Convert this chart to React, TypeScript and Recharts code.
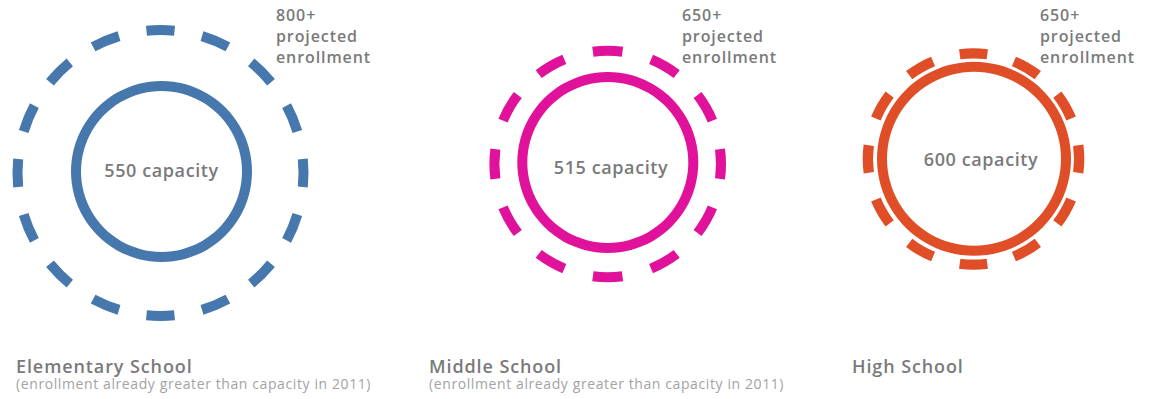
import React from 'react';
import { PieChart, Pie, Cell } from 'recharts';

// ---- data ----
const schools = ['Elementary School', 'Middle School', 'High School'];
const capacity = [550, 515, 600];
const projected = [800, 650, 650];
const notes = [
  '(enrollment already greater than capacity in 2011)',
  '(enrollment already greater than capacity in 2011)',
  '',
];

// ---- layout / style ----
const W = 1151;
const H = 399;
const colors = ['#4677ad', '#e0119a', '#e04e27'];
const innerCenters = [
  [161.5, 171.5],
  [607.8, 162.5],
  [974, 158.8],
];
const outerCenters = [
  [160.5, 173],
  [607.7, 164],
  [973.5, 159],
];
const innerRadii = [
  [80.5, 90.5],
  [80.5, 90.5],
  [87, 97],
];
const outerRadii = [
  [138, 148],
  [108.3, 118.3],
  [100.5, 110.8],
];
const dashCounts = [16, 12, 12];
const capLabelPos = [
  [161.5, 177],
  [611, 173.5],
  [981, 166],
];
const projLabelX = [276, 682, 1040];
const titleX = [16, 429, 852];

const TEXT = '#7a7a7a';
const SUB = '#a3a3a3';
const FONT = "'Open Sans', sans-serif";

const dashData = (n: number) =>
  Array.from({ length: n * 2 }, (_, i) => ({ name: `seg${i}`, value: 1, on: i % 2 === 0 }));

export default function App() {
  return (
    <div style={{ position: 'absolute', left: 0, top: 0, width: W, height: H, background: '#fff' }}>
      <PieChart width={W} height={H} margin={{ top: 0, right: 0, bottom: 0, left: 0 }}>
        {schools.map((s, i) => {
          const n = dashCounts[i];
          const half = 360 / (2 * n) / 2;
          const start = 90 + half;
          return (
            <Pie
              key={`dash-${s}`}
              data={dashData(n)}
              dataKey="value"
              cx={outerCenters[i][0]}
              cy={outerCenters[i][1]}
              innerRadius={outerRadii[i][0]}
              outerRadius={outerRadii[i][1]}
              startAngle={start}
              endAngle={start - 360}
              stroke="none"
              isAnimationActive={false}
            >
              {dashData(n).map((d) => (
                <Cell key={d.name} fill={d.on ? colors[i] : 'none'} stroke="none" />
              ))}
            </Pie>
          );
        })}
        {schools.map((s, i) => (
          <Pie
            key={`cap-${s}`}
            data={[{ name: s, value: capacity[i] }]}
            dataKey="value"
            cx={innerCenters[i][0]}
            cy={innerCenters[i][1]}
            innerRadius={innerRadii[i][0]}
            outerRadius={innerRadii[i][1]}
            startAngle={90}
            endAngle={-270}
            fill={colors[i]}
            stroke="none"
            isAnimationActive={false}
          />
        ))}
        {schools.map((s, i) => (
          <g key={`txt-${s}`} fontFamily={FONT}>
            <text
              x={capLabelPos[i][0]}
              y={capLabelPos[i][1]}
              textAnchor="middle"
              fontSize={18}
              fontWeight={600}
              letterSpacing={0.6}
              fill={TEXT}
            >
              {`${capacity[i]} capacity`}
            </text>
            <text x={projLabelX[i]} fontSize={16} fontWeight={600} letterSpacing={0.9} fill={TEXT}>
              <tspan x={projLabelX[i]} y={21}>{`${projected[i]}+`}</tspan>
              <tspan x={projLabelX[i]} y={42}>projected</tspan>
              <tspan x={projLabelX[i]} y={63}>enrollment</tspan>
            </text>
            <text x={titleX[i]} y={373} fontSize={18} fontWeight={600} letterSpacing={0.9} fill={TEXT}>
              {s}
            </text>
            {notes[i] ? (
              <text x={titleX[i]} y={388.5} fontSize={14} fontWeight={400} letterSpacing={0.6} fill={SUB}>
                {notes[i]}
              </text>
            ) : null}
          </g>
        ))}
      </PieChart>
    </div>
  );
}
